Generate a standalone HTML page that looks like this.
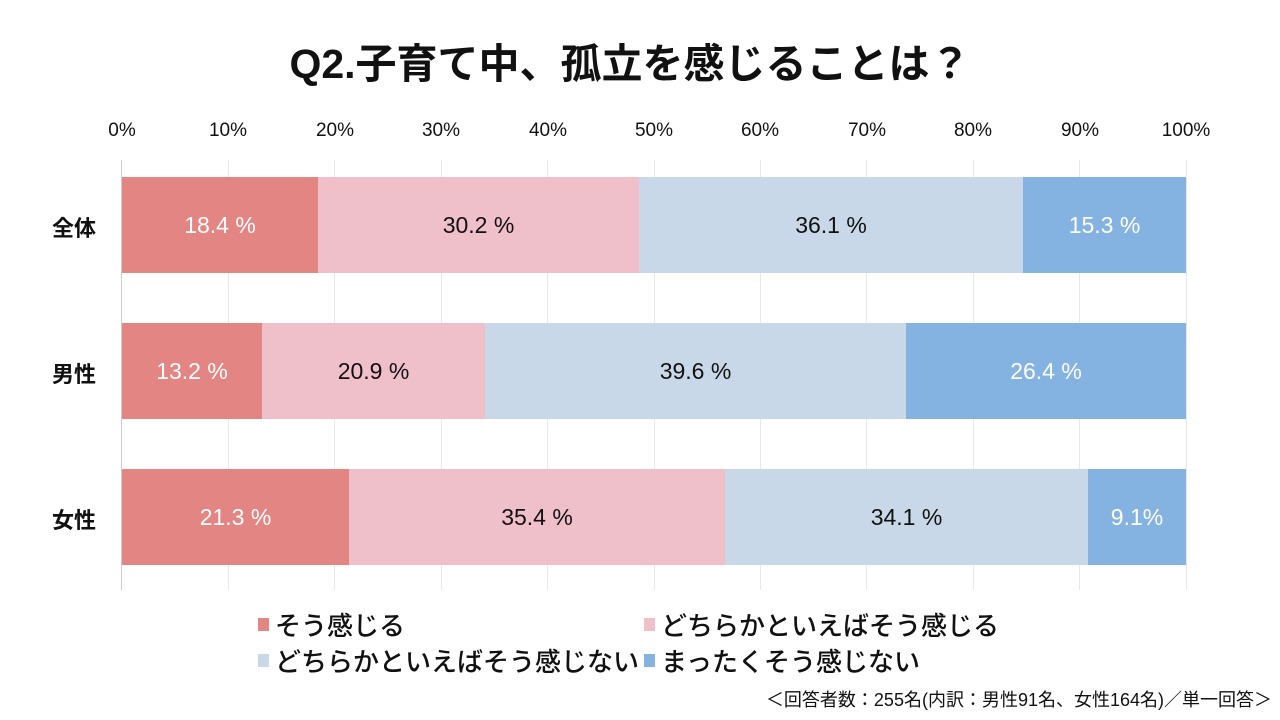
<!DOCTYPE html><html><head><meta charset="utf-8"><style>
body{margin:0;width:1280px;height:720px;background:#fff;position:relative;overflow:hidden;font-family:"Liberation Sans","Noto Sans CJK JP",sans-serif;color:#111}
.a{position:absolute}
.t{left:0;width:1260px;top:30px;text-align:center;font-size:41px;font-weight:bold}
.tick{top:120px;font-size:19px;width:80px;margin-left:-40px;text-align:center}
.g{top:160px;height:430px;width:1px;background:#e8e8e8}
.s{height:96px;display:flex;align-items:center;justify-content:center;font-size:23px}
.w{color:#fff}
.rl{left:52px;font-size:22px;font-weight:bold}
.lg{font-size:26px;display:flex;align-items:center;font-weight:500}
.lg i{display:inline-block;width:11px;height:13px;margin-right:6px}
</style></head><body>
<div class="a t">Q2.子育て中、孤立を感じることは？</div>
<div class="a tick" style="left:122px">0%</div><div class="a tick" style="left:228px">10%</div><div class="a tick" style="left:335px">20%</div><div class="a tick" style="left:441px">30%</div><div class="a tick" style="left:548px">40%</div><div class="a tick" style="left:654px">50%</div><div class="a tick" style="left:760px">60%</div><div class="a tick" style="left:867px">70%</div><div class="a tick" style="left:973px">80%</div><div class="a tick" style="left:1080px">90%</div><div class="a tick" style="left:1186px">100%</div>
<div class="a g" style="left:121px;background:#ccc"></div><div class="a g" style="left:228px"></div><div class="a g" style="left:334px"></div><div class="a g" style="left:441px"></div><div class="a g" style="left:547px"></div><div class="a g" style="left:654px"></div><div class="a g" style="left:760px"></div><div class="a g" style="left:866px"></div><div class="a g" style="left:973px"></div><div class="a g" style="left:1079px"></div><div class="a g" style="left:1186px"></div>

<div class="a rl" style="top:211px">全体</div>
<div class="a s w" style="top:177px;left:122px;width:196px;background:#e38583">18.4 %</div>
<div class="a s" style="top:177px;left:318px;width:321px;background:#efbfca">30.2 %</div>
<div class="a s" style="top:177px;left:639px;width:384px;background:#c9d8e8">36.1 %</div>
<div class="a s w" style="top:177px;left:1023px;width:163px;background:#84b3e2">15.3 %</div>

<div class="a rl" style="top:357px">男性</div>
<div class="a s w" style="top:323px;left:122px;width:140px;background:#e38583">13.2 %</div>
<div class="a s" style="top:323px;left:262px;width:223px;background:#efbfca">20.9 %</div>
<div class="a s" style="top:323px;left:485px;width:421px;background:#c9d8e8">39.6 %</div>
<div class="a s w" style="top:323px;left:906px;width:280px;background:#84b3e2">26.4 %</div>

<div class="a rl" style="top:503px">女性</div>
<div class="a s w" style="top:469px;left:122px;width:227px;background:#e38583">21.3 %</div>
<div class="a s" style="top:469px;left:349px;width:376px;background:#efbfca">35.4 %</div>
<div class="a s" style="top:469px;left:725px;width:363px;background:#c9d8e8">34.1 %</div>
<div class="a s w" style="top:469px;left:1088px;width:98px;background:#84b3e2">9.1%</div>

<div class="a lg" style="left:258px;top:606px"><i style="background:#e38583"></i>そう感じる</div>
<div class="a lg" style="left:644px;top:606px"><i style="background:#efbfca"></i>どちらかといえばそう感じる</div>
<div class="a lg" style="left:258px;top:642px"><i style="background:#c9d8e8"></i>どちらかといえばそう感じない</div>
<div class="a lg" style="left:644px;top:642px"><i style="background:#84b3e2"></i>まったくそう感じない</div>
<div class="a" style="right:8px;top:686px;font-size:18px">＜回答者数：255名(内訳：男性91名、女性164名)／単一回答＞</div>
</body></html>
